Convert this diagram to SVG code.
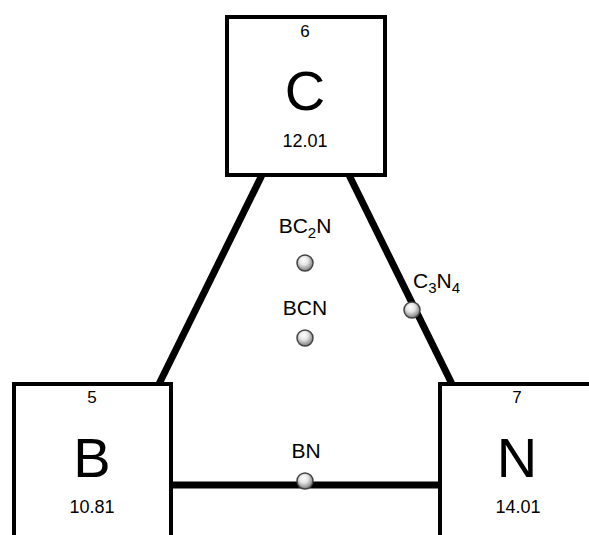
<svg xmlns="http://www.w3.org/2000/svg" width="589" height="535" viewBox="0 0 589 535">
<defs>
<radialGradient id="ball" cx="0.45" cy="0.4" r="0.6" fx="0.4" fy="0.3">
<stop offset="0" stop-color="#ffffff"/>
<stop offset="0.45" stop-color="#e6e6e6"/>
<stop offset="1" stop-color="#7a7a7a"/>
</radialGradient>
<style>
.box{fill:#fff;stroke:#000;stroke-width:4}
.edge{stroke:#000;stroke-width:7;fill:none}
.t{font-family:"Liberation Sans",Arial,sans-serif;fill:#000;text-anchor:middle}
.num{font-size:17px}
.sym{font-size:56px}
.mass{font-size:18px}
.lab{font-size:21px}
.ball{fill:url(#ball);stroke:#444;stroke-width:1.5}
</style>
</defs>
<rect width="589" height="535" fill="#fff"/>
<g id="connectors">
<line class="edge" x1="262" y1="175" x2="159" y2="384"/>
<line class="edge" x1="349" y1="175" x2="452" y2="384"/>
<line class="edge" x1="171" y1="485" x2="442" y2="485"/>
</g>
<g id="node-C">
<rect class="box" x="227" y="17" width="158" height="158"/>
<text class="t num" x="305" y="37">6</text>
<text class="t sym" x="305" y="110">C</text>
<text class="t mass" x="305" y="147">12.01</text>
</g>
<g id="node-B">
<rect class="box" x="14" y="384" width="157" height="200"/>
<text class="t num" x="92" y="403">5</text>
<text class="t sym" x="92" y="477">B</text>
<text class="t mass" x="92" y="513">10.81</text>
</g>
<g id="node-N">
<rect class="box" x="440" y="384" width="200" height="200"/>
<text class="t num" x="517" y="403">7</text>
<text class="t sym" x="517" y="477">N</text>
<text class="t mass" x="518" y="513">14.01</text>
</g>
<g id="BC2N">
<text class="t lab" x="305" y="233">BC<tspan font-size="15" dy="5">2</tspan><tspan dy="-5">N</tspan></text>
<circle class="ball" cx="305" cy="263" r="8"/>
</g>
<g id="BCN">
<text class="t lab" x="305" y="315">BCN</text>
<circle class="ball" cx="305" cy="338" r="8"/>
</g>
<g id="C3N4">
<text class="t lab" x="413" y="288" style="text-anchor:start">C<tspan font-size="15" dy="5">3</tspan><tspan dy="-5">N</tspan><tspan font-size="15" dy="5">4</tspan></text>
<circle class="ball" cx="412" cy="310" r="8"/>
</g>
<g id="BN">
<text class="t lab" x="306" y="458">BN</text>
<circle class="ball" cx="305" cy="481" r="8"/>
</g>
</svg>
